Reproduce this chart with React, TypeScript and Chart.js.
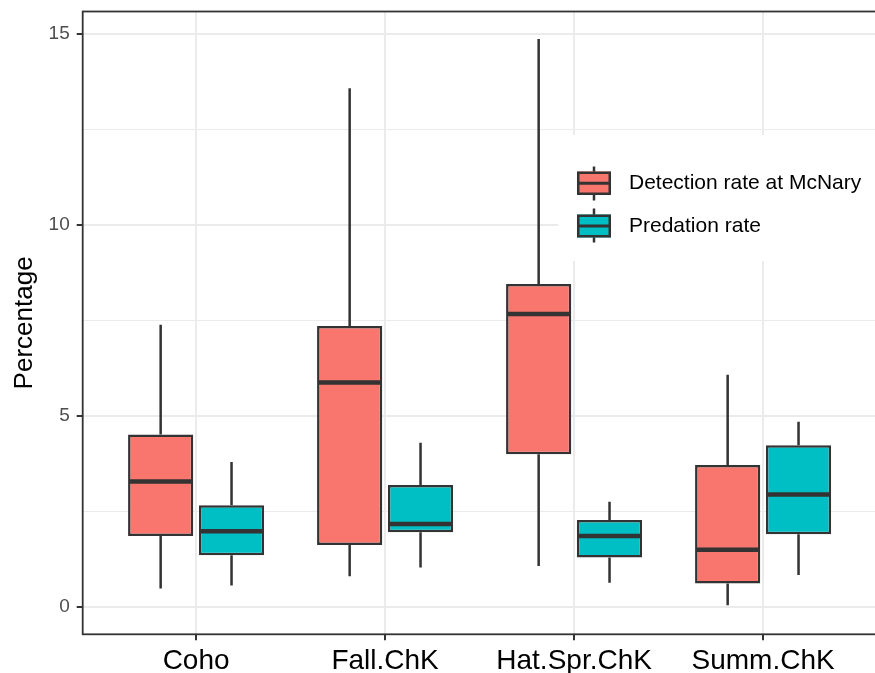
import React, { useEffect, useRef } from 'react';
import { Chart, registerables } from 'chart.js';

Chart.register(...registerables);

// ---- data ----
const categories = ['Coho', 'Fall.ChK', 'Hat.Spr.ChK', 'Summ.ChK'];
const seriesNames = ['Detection rate at McNary', 'Predation rate'];

const detMin = [0.48, 0.8, 1.07, 0.04];
const detQ1 = [1.85, 1.62, 3.99, 0.61];
const detMed = [3.28, 5.87, 7.66, 1.49];
const detQ3 = [4.51, 7.35, 8.45, 3.71];
const detMax = [7.38, 13.57, 14.86, 6.07];

const predMin = [0.56, 1.03, 0.63, 0.83];
const predQ1 = [1.35, 1.95, 1.29, 1.9];
const predMed = [1.98, 2.17, 1.85, 2.94];
const predQ3 = [2.66, 3.19, 2.27, 4.23];
const predMax = [3.79, 4.29, 2.75, 4.84];

const yTickValues = [0, 2.5, 5, 7.5, 10, 12.5, 15];

const FONT = '"Liberation Sans", Arial, Helvetica, sans-serif';
const RED = '#F8766D';
const TEAL = '#00BFC4';
const DARK = '#333333';

const stats = [
  { min: detMin, q1: detQ1, med: detMed, q3: detQ3, max: detMax, color: RED },
  { min: predMin, q1: predQ1, med: predMed, q3: predQ3, max: predMax, color: TEAL },
];

export default function App() {
  const ref = useRef<HTMLCanvasElement>(null);

  useEffect(() => {
    const canvas = ref.current;
    if (!canvas) return;

    const boxParts = {
      id: 'boxParts',
      afterDatasetsDraw(chart: any) {
        const y = chart.scales.y;
        const ctx = chart.ctx;
        stats.forEach((s, di) => {
          const meta = chart.getDatasetMeta(di);
          meta.data.forEach((el: any, i: number) => {
            const { x, width } = el.getProps(['x', 'width'], true);
            ctx.save();
            ctx.strokeStyle = DARK;
            ctx.lineCap = 'butt';
            ctx.lineWidth = 2.5;
            ctx.beginPath();
            ctx.moveTo(x, y.getPixelForValue(s.max[i]));
            ctx.lineTo(x, y.getPixelForValue(s.q3[i]));
            ctx.moveTo(x, y.getPixelForValue(s.q1[i]));
            ctx.lineTo(x, y.getPixelForValue(s.min[i]));
            ctx.stroke();
            const m = y.getPixelForValue(s.med[i]);
            ctx.lineWidth = 4.5;
            ctx.beginPath();
            ctx.moveTo(x - width / 2 + 1, m);
            ctx.lineTo(x + width / 2 - 1, m);
            ctx.stroke();
            ctx.restore();
          });
        });
      },
    };

    const legendBox = {
      id: 'legendBox',
      beforeDatasetsDraw(chart: any) {
        const ctx = chart.ctx;
        ctx.save();
        ctx.fillStyle = '#FFFFFF';
        ctx.fillRect(558, 135, 330, 126);
        const keyX = 577;
        const keyW = 34;
        const rows = [
          { top: 171.5, h: 23.5, wTop: 166.5, wBot: 200.5 },
          { top: 214.5, h: 23, wTop: 208.5, wBot: 242.5 },
        ];
        rows.forEach((r, i) => {
          const cx = keyX + keyW / 2;
          ctx.strokeStyle = DARK;
          ctx.lineWidth = 2.5;
          ctx.beginPath();
          ctx.moveTo(cx, r.wTop);
          ctx.lineTo(cx, r.wBot);
          ctx.stroke();
          ctx.fillStyle = stats[i].color;
          ctx.fillRect(keyX, r.top, keyW, r.h);
          ctx.lineWidth = 2.5;
          ctx.strokeRect(keyX + 1.25, r.top + 1.25, keyW - 2.5, r.h - 2.5);
          ctx.lineWidth = 3;
          ctx.beginPath();
          ctx.moveTo(keyX, r.top + r.h / 2);
          ctx.lineTo(keyX + keyW, r.top + r.h / 2);
          ctx.stroke();
          ctx.fillStyle = '#000000';
          ctx.font = `21px ${FONT}`;
          ctx.textAlign = 'left';
          ctx.textBaseline = 'middle';
          ctx.fillText(seriesNames[i], 629, r.top + r.h / 2);
        });
        ctx.restore();
      },
    };

    const panelBorder = {
      id: 'panelBorder',
      afterDraw(chart: any) {
        const a = chart.chartArea;
        const ctx = chart.ctx;
        ctx.save();
        ctx.strokeStyle = DARK;
        ctx.lineWidth = 1.8;
        ctx.strokeRect(a.left, a.top, a.right - a.left, a.bottom - a.top);
        ctx.restore();
      },
    };

    const chart = new Chart(canvas, {
      type: 'bar',
      data: {
        datasets: stats.map((s, di) => ({
          label: seriesNames[di],
          data: categories.map((_, i) => ({ x: i, y: [s.q1[i], s.q3[i]] })),
          backgroundColor: s.color,
          borderColor: DARK,
          borderWidth: 2.5,
          borderSkipped: false,
          categoryPercentage: 0.75,
          barPercentage: 0.92,
        })),
      },
      options: {
        animation: false,
        responsive: false,
        devicePixelRatio: 1,
        layout: { padding: { top: 11.5, right: 1.5, left: 0, bottom: 0 } },
        plugins: {
          legend: { display: false },
          tooltip: { enabled: false },
        },
        scales: {
          x: {
            type: 'linear',
            min: -0.6,
            max: 3.6,
            offset: false,
            afterBuildTicks: (s: any) => {
              s.ticks = categories.map((_, i) => ({ value: i }));
            },
            afterFit: (s: any) => {
              s.height = 38.7;
              s.paddingLeft = 0;
              s.paddingRight = 0;
            },
            ticks: {
              callback: (v: any) => categories[v] ?? '',
              color: '#000000',
              font: { family: FONT, size: 28 },
              padding: 4,
              maxRotation: 0,
              autoSkip: false,
            },
            grid: {
              offset: false,
              color: '#EBEBEB',
              lineWidth: 2,
              tickLength: 6,
              tickColor: DARK,
              tickWidth: 2,
            },
            border: { display: false },
          },
          y: {
            type: 'linear',
            min: -0.72,
            max: 15.58,
            afterBuildTicks: (s: any) => {
              s.ticks = yTickValues.map((v) => ({ value: v }));
            },
            afterFit: (s: any) => {
              s.width = 82.7;
              s.paddingTop = 0;
              s.paddingBottom = 0;
            },
            ticks: {
              callback: (v: any) => (v % 5 === 0 ? String(v) : ''),
              color: '#4D4D4D',
              font: { family: FONT, size: 19 },
              padding: 7,
              autoSkip: false,
            },
            grid: {
              color: '#EBEBEB',
              lineWidth: (c: any) => (c.tick && c.tick.value % 5 === 0 ? 2 : 1),
              tickLength: 6,
              tickColor: (c: any) => (c.tick && c.tick.value % 5 === 0 ? DARK : 'rgba(0,0,0,0)'),
              tickWidth: 2,
            },
            border: { display: false },
            title: {
              display: true,
              text: 'Percentage',
              color: '#000000',
              font: { family: FONT, size: 26 },
              padding: { top: 9, bottom: 0 },
            },
          },
        },
      },
      plugins: [legendBox, boxParts, panelBorder],
    } as any);

    return () => chart.destroy();
  }, []);

  return (
    <div
      style={{
        position: 'fixed',
        left: 0,
        top: 0,
        width: 875,
        height: 673,
        overflow: 'hidden',
        background: '#FFFFFF',
      }}
    >
      <canvas ref={ref} width={878} height={673} style={{ width: 878, height: 673, display: 'block' }} />
    </div>
  );
}
